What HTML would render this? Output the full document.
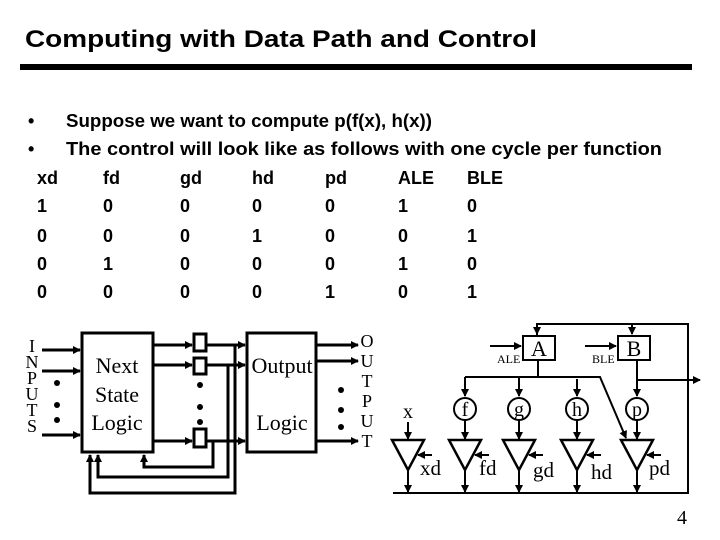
<!DOCTYPE html>
<html><head><meta charset="utf-8"><style>
html,body{margin:0;padding:0;background:#fff;}
svg{display:block;}
.h{font-family:"Liberation Sans",sans-serif;font-weight:bold;font-size:18px;}
.s{font-family:"Liberation Serif",serif;}
</style></head><body>
<svg width="720" height="540" viewBox="0 0 720 540" xmlns="http://www.w3.org/2000/svg">
<defs>
<marker id="a" markerWidth="8" markerHeight="8" refX="7" refY="4" orient="auto" markerUnits="userSpaceOnUse"><path d="M0,0 L8,4 L0,8 z" fill="#000"/></marker>
</defs>
<rect width="720" height="540" fill="#fff"/>
<text x="25" y="47" font-family="Liberation Sans,sans-serif" font-weight="bold" font-size="24" textLength="512" lengthAdjust="spacingAndGlyphs">Computing with Data Path and Control</text>
<rect x="20" y="64" width="672" height="6" fill="#000"/>
<text class="h" x="28" y="127">•</text>
<text class="h" x="66" y="127" textLength="366" lengthAdjust="spacingAndGlyphs">Suppose we want to compute p(f(x), h(x))</text>
<text class="h" x="28" y="155">•</text>
<text class="h" x="66" y="155" textLength="596" lengthAdjust="spacingAndGlyphs">The control will look like as follows with one cycle per function</text>
<g class="h">
<text x="37" y="184">xd</text><text x="103" y="184">fd</text><text x="180" y="184">gd</text><text x="252" y="184">hd</text><text x="325" y="184">pd</text><text x="398" y="184">ALE</text><text x="467" y="184">BLE</text>
<text x="37" y="212">1</text><text x="103" y="212">0</text><text x="180" y="212">0</text><text x="252" y="212">0</text><text x="325" y="212">0</text><text x="398" y="212">1</text><text x="467" y="212">0</text>
<text x="37" y="242">0</text><text x="103" y="242">0</text><text x="180" y="242">0</text><text x="252" y="242">1</text><text x="325" y="242">0</text><text x="398" y="242">0</text><text x="467" y="242">1</text>
<text x="37" y="270">0</text><text x="103" y="270">1</text><text x="180" y="270">0</text><text x="252" y="270">0</text><text x="325" y="270">0</text><text x="398" y="270">1</text><text x="467" y="270">0</text>
<text x="37" y="298">0</text><text x="103" y="298">0</text><text x="180" y="298">0</text><text x="252" y="298">0</text><text x="325" y="298">1</text><text x="398" y="298">0</text><text x="467" y="298">1</text>
</g>
<!-- left diagram -->
<g class="s" font-size="18" text-anchor="middle">
<text x="32" y="352">I</text><text x="32" y="368">N</text><text x="32" y="384">P</text><text x="32" y="400">U</text><text x="32" y="416">T</text><text x="32" y="432">S</text>
<text x="367" y="347">O</text><text x="367" y="367">U</text><text x="367" y="387">T</text><text x="367" y="407">P</text><text x="367" y="427">U</text><text x="367" y="447">T</text>
</g>
<g stroke="#000" stroke-width="3" fill="none">
<line x1="42" y1="350" x2="80" y2="350" marker-end="url(#a)"/>
<line x1="42" y1="371" x2="80" y2="371" marker-end="url(#a)"/>
<line x1="42" y1="435" x2="80" y2="435" marker-end="url(#a)"/>
<rect x="82" y="333" width="71" height="119"/>
<line x1="153" y1="345" x2="192" y2="345" marker-end="url(#a)"/>
<line x1="153" y1="365" x2="192" y2="365" marker-end="url(#a)"/>
<line x1="153" y1="441" x2="192" y2="441" marker-end="url(#a)"/>
<rect x="194" y="334" width="12" height="17"/>
<rect x="194" y="358" width="12" height="16"/>
<rect x="194" y="429" width="12" height="18"/>
<line x1="206" y1="345" x2="245" y2="345" marker-end="url(#a)"/>
<line x1="206" y1="365" x2="245" y2="365" marker-end="url(#a)"/>
<line x1="206" y1="441" x2="245" y2="441" marker-end="url(#a)"/>
<rect x="247" y="333" width="69" height="119"/>
<line x1="316" y1="345" x2="358" y2="345" marker-end="url(#a)"/>
<line x1="316" y1="361" x2="358" y2="361" marker-end="url(#a)"/>
<line x1="316" y1="441" x2="358" y2="441" marker-end="url(#a)"/>
<polyline points="235,345 235,493 90,493 90,455" marker-end="url(#a)"/>
<polyline points="228,365 228,477 98,477 98,455" marker-end="url(#a)"/>
<polyline points="213,441 213,467 144,467 144,455" marker-end="url(#a)"/>
</g>
<g fill="#000">
<circle cx="57" cy="383" r="3"/><circle cx="57" cy="405" r="3"/><circle cx="57" cy="420" r="3"/>
<circle cx="200" cy="385" r="3"/><circle cx="200" cy="407" r="3"/><circle cx="200" cy="422" r="3"/>
<circle cx="341" cy="390" r="3"/><circle cx="341" cy="410" r="3"/><circle cx="341" cy="427" r="3"/>
</g>
<g class="s" font-size="22" text-anchor="middle">
<text x="117" y="373">Next</text><text x="117" y="402">State</text><text x="117" y="430">Logic</text>
<text x="282" y="373">Output</text><text x="282" y="430">Logic</text>
</g>
<!-- right diagram -->
<g stroke="#000" stroke-width="2" fill="none">
<polyline points="537,335 537,324 688,324 688,493"/>
<line x1="537" y1="324" x2="537" y2="334" marker-end="url(#a)"/>
<line x1="632" y1="324" x2="632" y2="334" marker-end="url(#a)"/>
<rect x="523" y="336" width="32" height="24"/>
<rect x="618" y="336" width="32" height="24"/>
<line x1="490" y1="346" x2="521" y2="346" marker-end="url(#a)"/>
<line x1="585" y1="346" x2="616" y2="346" marker-end="url(#a)"/>
<polyline points="538,360 538,377"/>
<polyline points="465,377 600,377 626,438" marker-end="url(#a)"/>
<line x1="465" y1="377" x2="465" y2="396" marker-end="url(#a)"/>
<line x1="519" y1="377" x2="519" y2="396" marker-end="url(#a)"/>
<line x1="577" y1="379" x2="577" y2="396" marker-end="url(#a)"/>
<line x1="637" y1="360" x2="637" y2="396" marker-end="url(#a)"/>
<line x1="637" y1="380" x2="700" y2="380" marker-end="url(#a)"/>
<circle cx="465" cy="409" r="11"/><circle cx="519" cy="409" r="11"/><circle cx="577" cy="409" r="11"/><circle cx="637" cy="409" r="11"/>
<line x1="408" y1="422" x2="408" y2="439" marker-end="url(#a)"/>
<line x1="465" y1="420" x2="465" y2="439" marker-end="url(#a)"/>
<line x1="519" y1="420" x2="519" y2="439" marker-end="url(#a)"/>
<line x1="577" y1="420" x2="577" y2="439" marker-end="url(#a)"/>
<line x1="637" y1="420" x2="637" y2="439" marker-end="url(#a)"/>
<g stroke-width="2.5">
<polygon points="392,440 424,440 408,470"/>
<polygon points="449,440 481,440 465,470"/>
<polygon points="503,440 535,440 519,470"/>
<polygon points="561,440 593,440 577,470"/>
<polygon points="621,440 653,440 637,470"/>
</g>
<line x1="432" y1="455" x2="418" y2="455" marker-end="url(#a)"/>
<line x1="489" y1="455" x2="475" y2="455" marker-end="url(#a)"/>
<line x1="543" y1="455" x2="529" y2="455" marker-end="url(#a)"/>
<line x1="601" y1="455" x2="587" y2="455" marker-end="url(#a)"/>
<line x1="661" y1="455" x2="647" y2="455" marker-end="url(#a)"/>
<line x1="408" y1="470" x2="408" y2="492" marker-end="url(#a)"/>
<line x1="465" y1="470" x2="465" y2="492" marker-end="url(#a)"/>
<line x1="519" y1="470" x2="519" y2="492" marker-end="url(#a)"/>
<line x1="577" y1="470" x2="577" y2="492" marker-end="url(#a)"/>
<line x1="637" y1="470" x2="637" y2="492" marker-end="url(#a)"/>
<line x1="393" y1="493" x2="689" y2="493"/>
</g>
<g class="s" font-size="12"><text x="497" y="363">ALE</text><text x="592" y="363">BLE</text></g>
<g class="s" font-size="22" text-anchor="middle"><text x="539" y="356">A</text><text x="634" y="356">B</text></g>
<g class="s" font-size="20" text-anchor="middle">
<text x="465" y="416">f</text><text x="519" y="416">g</text><text x="577" y="416">h</text><text x="637" y="416">p</text>
<text x="408" y="418">x</text>
</g>
<g class="s" font-size="21">
<text x="420" y="475">xd</text><text x="479" y="475">fd</text><text x="533" y="477">gd</text><text x="591" y="479">hd</text><text x="649" y="475">pd</text>
<text x="677" y="524" font-size="20">4</text>
</g>
</svg>
</body></html>
